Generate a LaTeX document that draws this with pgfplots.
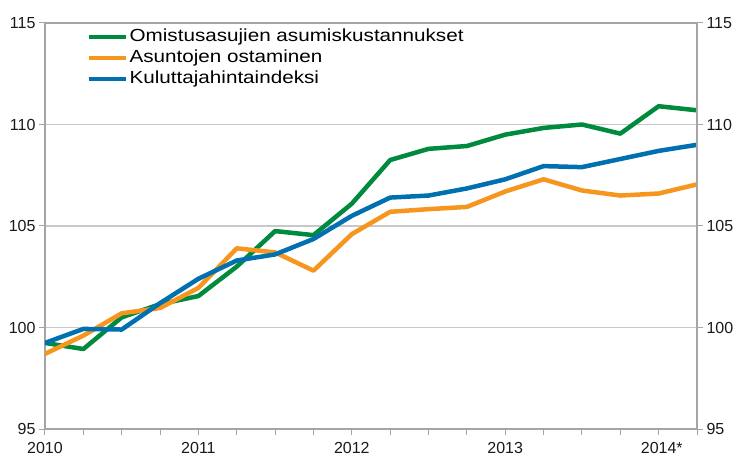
\documentclass[border=0pt]{standalone}
\usepackage{fontspec}
\setmainfont{Liberation Sans}
\newfontfamily\legfont[FakeStretch=1.18]{Liberation Sans}
\usepackage{pgfplots}
\pgfplotsset{compat=1.18}
\definecolor{cgreen}{RGB}{0,138,62}
\definecolor{corange}{RGB}{247,150,30}
\definecolor{cblue}{RGB}{0,112,176}
\definecolor{axgray}{RGB}{165,165,165}
\definecolor{gridgray}{RGB}{200,200,200}
\begin{document}
\begin{tikzpicture}
\pgfplotsset{
  common/.style={
    scale only axis, width=652bp, height=406bp,
    xmin=0, xmax=17, ymin=95, ymax=115,
    ytick={95,100,...,115},
    axis line style={axgray, line width=1.2bp},
    major tick style={axgray, line width=1bp},
    tick align=outside, major tick length=6bp,
    tick label style={font=\fontsize{16bp}{19bp}\selectfont, text=black!90},
    /pgf/number format/assume math mode=true,
  }
}
\begin{axis}[common, name=main,
  xtick={0,...,17},
  xticklabels={2010,,,,2011,,,,2012,,,,2013,,,,2014\rlap{*}},
  xtick pos=bottom, ytick pos=left,
  xticklabel style={yshift=-4bp},
  ymajorgrids, grid style={gridgray, line width=1.2bp},
  legend style={draw=none, fill=none, at={(0.062,0.995)}, anchor=north west,
    inner sep=1bp, row sep=0bp,
    font=\legfont\fontsize{17.5bp}{21bp}\selectfont,
    nodes={text height=13bp, text depth=4bp}},
  legend cell align=left,
  legend image code/.code={\draw[#1, line width=4bp] (0bp,0bp) -- (37bp,0bp);},
  every axis plot/.append style={line width=4.5bp, line join=round, mark=none},
]
\addplot[cgreen] coordinates {
(0,99.24) (1,98.94) (2,100.5) (3,101.15) (4,101.55) (5,103.0) (6,104.75) (7,104.55)
(8,106.1) (9,108.25) (10,108.8) (11,108.94) (12,109.5) (13,109.83) (14,110.0)
(15,109.55) (16,110.9) (17,110.7)};
\addlegendentry{Omistusasujien asumiskustannukset}
\addplot[corange] coordinates {
(0,98.7) (1,99.6) (2,100.7) (3,100.96) (4,101.95) (5,103.9) (6,103.7) (7,102.8)
(8,104.6) (9,105.7) (10,105.83) (11,105.94) (12,106.7) (13,107.3) (14,106.75)
(15,106.5) (16,106.6) (17,107.05)};
\addlegendentry{Asuntojen ostaminen}
\addplot[cblue] coordinates {
(0,99.24) (1,99.93) (2,99.9) (3,101.2) (4,102.4) (5,103.3) (6,103.6) (7,104.36)
(8,105.5) (9,106.4) (10,106.5) (11,106.85) (12,107.3) (13,107.95) (14,107.9)
(15,108.3) (16,108.7) (17,109.0)};
\addlegendentry{Kuluttajahintaindeksi}
\end{axis}
\begin{axis}[common,
  hide x axis, axis y line*=right, ytick pos=right, yticklabel pos=right,
]
\end{axis}
\pgfresetboundingbox
\path[use as bounding box] ([shift={(-45bp,-29bp)}]main.south west) rectangle ([shift={(41bp,23bp)}]main.north east);
\end{tikzpicture}
\end{document}
